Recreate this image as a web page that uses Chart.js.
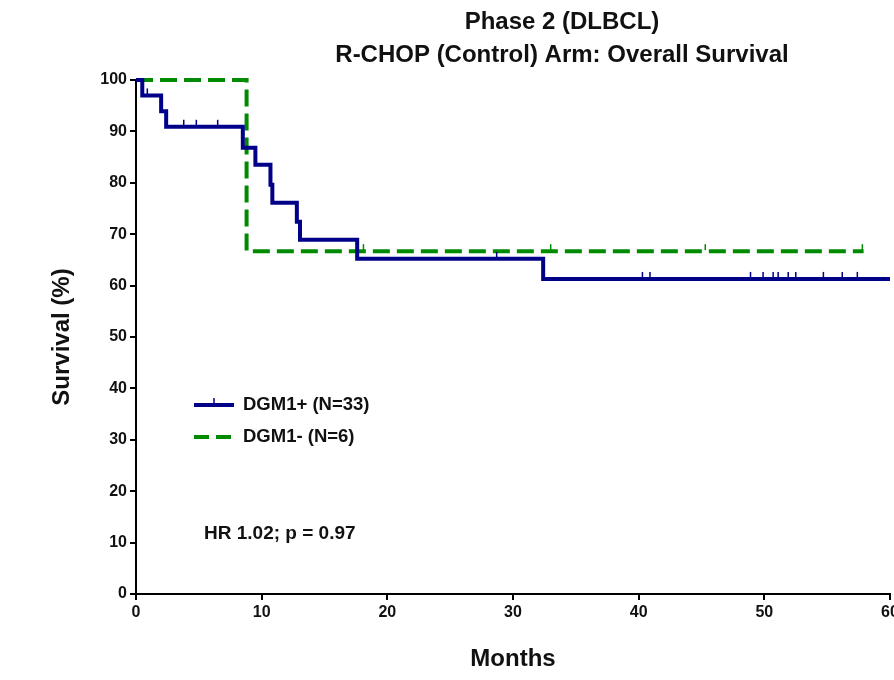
<!DOCTYPE html>
<html>
<head>
<meta charset="utf-8">
<script src="https://cdn.jsdelivr.net/npm/chart.js@4/dist/chart.umd.min.js"></script>
<style>
  html, body { margin: 0; padding: 0; background: #fff; }
  #wrap { width: 894px; height: 680px; }
</style>
</head>
<body>
<div id="wrap"><canvas id="osChart" width="894" height="680"></canvas></div>
<script>
// Kaplan-Meier steps (months, survival %)
var posMonths = [0, 0.5, 2.0, 2.4, 8.5, 9.5, 10.7, 10.85, 12.8, 13.05, 17.6, 32.4, 60];
var posSurv = [100, 97.0, 93.9, 90.9, 86.8, 83.5, 79.6, 76.1, 72.4, 68.9, 65.2, 61.3, 61.3];
var negMonths = [0, 8.8, 57.9];
var negSurv = [100, 66.7, 66.7];

// censored observations (months)
var posCensored = [0.9, 3.8, 4.8, 6.5, 28.7, 40.3, 40.9, 48.9, 49.9, 50.7, 51.1, 51.9, 52.5, 54.7, 56.2, 57.4];
var negCensored = [18.1, 33.0, 45.3, 57.8];

var seriesLabels = ['DGM1+ (N=33)', 'DGM1- (N=6)'];
var titleLines = ['Phase 2 (DLBCL)', 'R-CHOP (Control) Arm: Overall Survival'];
var statsText = 'HR 1.02; p = 0.97';

var BLUE = '#000088';
var GREEN = '#008a00';
var FONT = '"Liberation Sans", Arial, sans-serif';

function toPoints(xs, ys) {
  return xs.map(function (x, i) { return { x: x, y: ys[i] }; });
}

// survival value of a step curve at time t
function survAt(xs, ys, t) {
  var v = ys[0];
  for (var i = 0; i < xs.length; i++) {
    if (xs[i] <= t) v = ys[i];
  }
  return v;
}

var extras = {
  id: 'kmExtras',
  afterDatasetsDraw: function (chart) {
    var ctx = chart.ctx;
    var xs = chart.scales.x;
    var ys = chart.scales.y;

    // censor ticks
    function ticks(times, months, surv, color) {
      ctx.save();
      ctx.strokeStyle = color;
      ctx.lineWidth = 1.5;
      times.forEach(function (t) {
        var px = xs.getPixelForValue(t);
        var py = ys.getPixelForValue(survAt(months, surv, t));
        ctx.beginPath();
        ctx.moveTo(px, py - 1);
        ctx.lineTo(px, py - 7);
        ctx.stroke();
      });
      ctx.restore();
    }
    ticks(posCensored, posMonths, posSurv, BLUE);
    ticks(negCensored, negMonths, negSurv, GREEN);

    ctx.save();
    // legend inside plot
    ctx.lineWidth = 4;
    ctx.strokeStyle = BLUE;
    ctx.beginPath();
    ctx.moveTo(194, 405);
    ctx.lineTo(234, 405);
    ctx.stroke();
    ctx.lineWidth = 1.5;
    ctx.beginPath();
    ctx.moveTo(214, 404);
    ctx.lineTo(214, 398);
    ctx.stroke();

    ctx.lineWidth = 4;
    ctx.strokeStyle = GREEN;
    ctx.setLineDash([15, 7]);
    ctx.beginPath();
    ctx.moveTo(194, 437);
    ctx.lineTo(236, 437);
    ctx.stroke();
    ctx.setLineDash([]);

    ctx.fillStyle = '#111';
    ctx.textBaseline = 'middle';
    ctx.textAlign = 'left';
    ctx.font = 'bold 18.5px ' + FONT;
    ctx.fillText(seriesLabels[0], 243, 405);
    ctx.fillText(seriesLabels[1], 243, 437);

    ctx.font = 'bold 19px ' + FONT;
    ctx.fillText(statsText, 204, 534);

    // title
    ctx.textAlign = 'center';
    ctx.font = 'bold 24px ' + FONT;
    ctx.fillText(titleLines[0], 562, 22);
    ctx.fillText(titleLines[1], 562, 55);
    ctx.restore();
  }
};

new Chart(document.getElementById('osChart'), {
  type: 'line',
  data: {
    datasets: [
      {
        label: seriesLabels[0],
        data: toPoints(posMonths, posSurv),
        borderColor: BLUE,
        borderWidth: 4,
        stepped: true,
        pointRadius: 0,
        fill: false,
        clip: false,
        borderCapStyle: 'butt',
        borderJoinStyle: 'miter'
      },
      {
        label: seriesLabels[1],
        data: toPoints(negMonths, negSurv),
        borderColor: GREEN,
        borderWidth: 4,
        borderDash: [17, 7],
        stepped: true,
        pointRadius: 0,
        fill: false,
        clip: false,
        borderCapStyle: 'butt',
        borderJoinStyle: 'miter'
      }
    ]
  },
  options: {
    responsive: false,
    animation: false,
    layout: { padding: { top: 80, right: 4, bottom: 0, left: 0 } },
    plugins: {
      legend: { display: false },
      tooltip: { enabled: false },
      title: { display: false }
    },
    scales: {
      x: {
        type: 'linear',
        min: 0,
        max: 60,
        afterFit: function (s) { s.height = 86; s.paddingLeft = 0; s.paddingRight = 0; },
        border: { color: '#000', width: 2 },
        grid: { drawOnChartArea: false, color: '#000', lineWidth: 2, tickLength: 6 },
        ticks: { stepSize: 10, padding: 3, color: '#111', font: { family: FONT, size: 16, weight: 'bold' } },
        title: {
          display: true,
          text: 'Months',
          color: '#111',
          padding: { top: 0, bottom: 6 },
          font: { family: FONT, size: 24, weight: 'bold' }
        }
      },
      y: {
        min: 0,
        max: 100,
        afterFit: function (s) { s.width = 136; s.paddingTop = 0; s.paddingBottom = 0; },
        border: { color: '#000', width: 2 },
        grid: { drawOnChartArea: false, color: '#000', lineWidth: 2, tickLength: 6 },
        ticks: { stepSize: 10, padding: 3, color: '#111', font: { family: FONT, size: 16, weight: 'bold' } },
        title: {
          display: true,
          text: 'Survival (%)',
          color: '#111',
          padding: { top: 48, bottom: 0 },
          font: { family: FONT, size: 24, weight: 'bold' }
        }
      }
    }
  },
  plugins: [extras]
});
</script>
</body>
</html>
